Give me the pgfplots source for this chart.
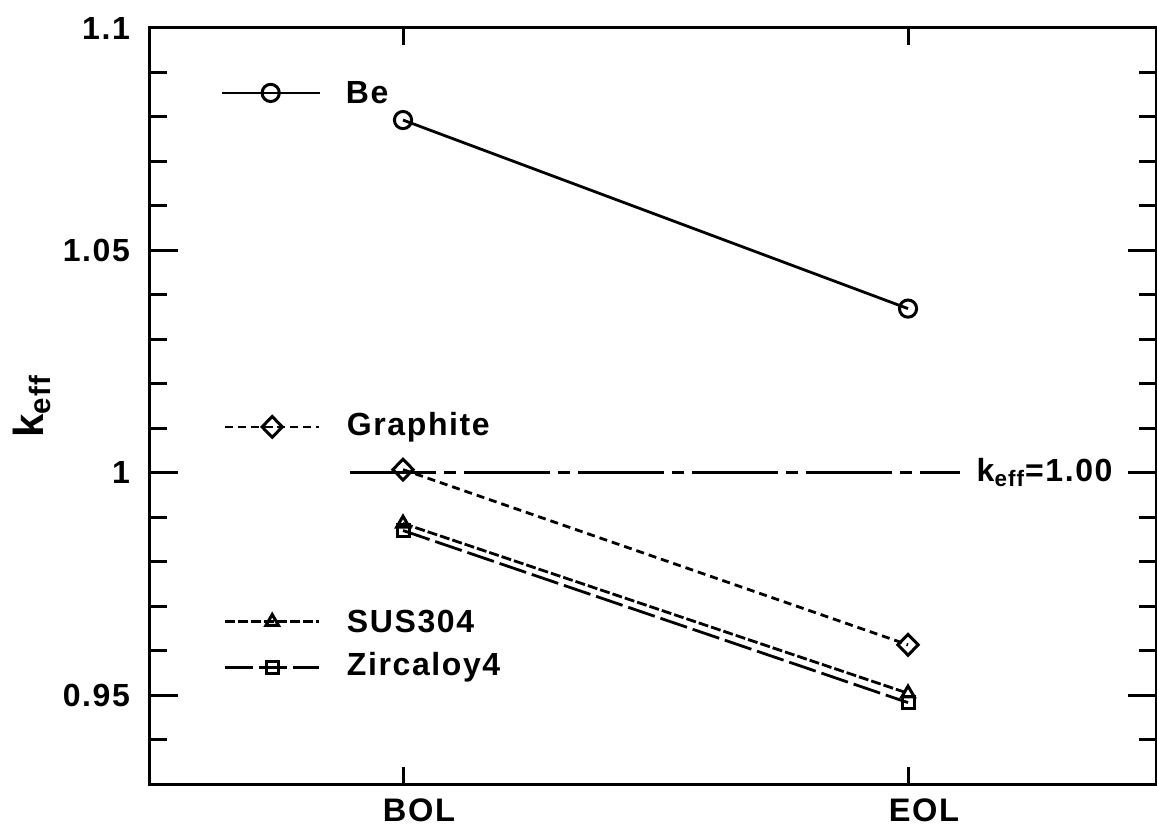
\documentclass[border=0pt]{standalone}
\usepackage{fontspec}
\setmainfont{Liberation Sans}[LetterSpace=5]
\usepackage{pgfplots}
\pgfplotsset{compat=1.18}
\begin{document}
\begin{tikzpicture}
\useasboundingbox (-75pt,-23.5pt) rectangle (503.5pt,392pt);
\begin{axis}[
  at={(0,0)}, anchor=south west,
  scale only axis, width=503pt, height=378pt,
  xmin=-0.501, xmax=1.491, ymin=0.93, ymax=1.1,
  xtick={0,1}, xticklabels={BOL,EOL},
  ytick={0.95,1,1.05,1.1}, yticklabels={0.95,1,1.05,1.1},
  minor ytick={0.94,0.96,0.97,0.98,0.99,1.01,1.02,1.03,1.04,1.06,1.07,1.08,1.09},
  tick align=inside,
  major tick length=14pt, minor tick length=8.5pt,
  xtick style={/pgfplots/major tick length=8.5pt},
  axis line style={line width=1.5pt},
  every tick/.style={line width=1.5pt, black},
  ticklabel style={font=\fontsize{16}{19}\selectfont\bfseries},
  yticklabel style={xshift=-6.5pt},
  xticklabel style={anchor=north, inner sep=0pt, yshift=-7pt, xshift=8pt, font=\fontsize{16.3}{19}\selectfont\bfseries},
  /pgf/number format/assume math mode=true,
  ylabel={k\textsubscript{eff}},
  ylabel style={font=\fontsize{21}{25}\selectfont\bfseries, at={(axis description cs:-0.092,0.5)}, anchor=south},
  clip=false,
]
% k_eff = 1 reference line
\addplot[black, line width=1.4pt, dash pattern=on 43pt off 4pt on 6pt off 4pt] coordinates {(-0.105,1) (1.103,1)};
\node[anchor=west, font=\fontsize{16}{19}\selectfont\bfseries] at (axis cs:1.122,1) {k\textsubscript{eff}=1.00};

% Data
\addplot[black, line width=1.4pt, mark=o, mark size=4.3pt, mark options={fill=white, solid, line width=1.5pt}] coordinates {(0,1.0793) (1,1.0369)};
\addplot[black, line width=1.4pt, dash pattern=on 4pt off 2.5pt, mark=diamond, mark size=5.2pt, mark options={fill=white, solid, xscale=1.3, line width=1.5pt}] coordinates {(0,1.0007) (1,0.9613)};
\addplot[black, line width=1.4pt, dash pattern=on 5pt off 1.5pt, mark=triangle, mark size=3.6pt, mark options={fill=white, solid, line width=1.5pt}] coordinates {(0,0.9886) (1,0.9504)};
\addplot[black, line width=1.4pt, dash pattern=on 14pt off 3pt, mark=square, mark size=3pt, mark options={fill=white, solid, line width=1.5pt}] coordinates {(0,0.9870) (1,0.9483)};

% Legend samples
\addplot[black, line width=1.4pt, mark=o, mark size=4.3pt, mark indices={2}, mark options={fill=white, solid, line width=1.5pt}] coordinates {(-0.358,1.0854) (-0.262,1.0854) (-0.165,1.0854)};
\node[anchor=west, font=\fontsize{16}{19}\selectfont\bfseries] at (axis cs:-0.127,1.0854) {Be};
\addplot[black, line width=1.4pt, dash pattern=on 4pt off 2.5pt, mark=diamond, mark size=5.2pt, mark indices={2}, mark options={fill=white, solid, xscale=1.3, line width=1.5pt}] coordinates {(-0.352,1.0103) (-0.259,1.0103) (-0.166,1.0103)};
\node[anchor=west, font=\fontsize{16}{19}\selectfont\bfseries] at (axis cs:-0.125,1.0103) {Graphite};
\addplot[black, line width=1.4pt, dash pattern=on 5pt off 1.5pt, mark=triangle, mark size=3.6pt, mark indices={2}, mark options={fill=white, solid, line width=1.5pt}] coordinates {(-0.352,0.9665) (-0.259,0.9665) (-0.166,0.9665)};
\node[anchor=west, font=\fontsize{16}{19}\selectfont\bfseries] at (axis cs:-0.125,0.9665) {SUS304};
\addplot[black, line width=1.4pt, dash pattern=on 14pt off 3pt, mark=square, mark size=3pt, mark indices={2}, mark options={fill=white, solid, line width=1.5pt}] coordinates {(-0.352,0.9562) (-0.259,0.9562) (-0.166,0.9562)};
\node[anchor=west, font=\fontsize{16}{19}\selectfont\bfseries] at (axis cs:-0.125,0.9562) {Zircaloy4};
\end{axis}
\end{tikzpicture}
\end{document}
